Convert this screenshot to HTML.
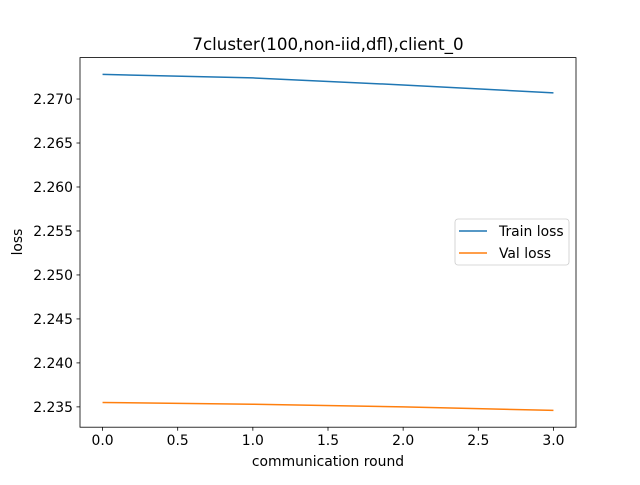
<!DOCTYPE html>
<html><head><meta charset="utf-8"><style>
body{margin:0;background:#fff}
svg text{font-family:"DejaVu Sans","Liberation Sans",sans-serif;fill:#000}
</style></head><body>
<svg id="chart" width="640" height="480">
<rect width="640" height="480" fill="#fff"/>
<text x="328" y="50" font-size="16.7" text-anchor="middle">7cluster(100,non-iid,dfl),client_0</text>
<g id="ticks"></g>
<g id="lines"></g>
<rect x="80" y="57.6" width="496" height="369.6" fill="none" stroke="#000" stroke-width="0.8"/>
<text x="328" y="466" font-size="13.9" text-anchor="middle">communication round</text>
<text x="22" y="242" font-size="13.9" text-anchor="middle" transform="rotate(-90 22 242)">loss</text>
<g>
<rect x="455" y="219" width="114" height="46" rx="3" fill="#fff" fill-opacity="0.8" stroke="#ccc" stroke-width="0.8"/>
<line x1="459" y1="231" x2="487" y2="231" stroke="#1f77b4" stroke-width="1.5"/>
<text x="499" y="236" font-size="13.9">Train loss</text>
<line x1="459" y1="253" x2="487" y2="253" stroke="#ff7f0e" stroke-width="1.5"/>
<text x="499" y="258" font-size="13.9">Val loss</text>
</g>
</svg>
<script>
const rounds=[0,1,2,3];
const trainLoss=[2.2728,2.2724,2.2716,2.2707];
const valLoss=[2.2355,2.2353,2.2350,2.2346];
const xTicks=[0,0.5,1,1.5,2,2.5,3];
const yTicks=[2.235,2.240,2.245,2.250,2.255,2.260,2.265,2.270];
const NS='http://www.w3.org/2000/svg';
const L=80,R=576,T=57.6,B=427.2;
const all=trainLoss.concat(valLoss);
const mn=Math.min(...all),mx=Math.max(...all),pad=(mx-mn)*0.05;
const y0=mn-pad,y1=mx+pad;
const xmn=Math.min(...rounds),xmx=Math.max(...rounds),xp=(xmx-xmn)*0.05;
const sx=v=>L+(v-(xmn-xp))/((xmx+xp)-(xmn-xp))*(R-L);
const sy=v=>B-(v-y0)/(y1-y0)*(B-T);
const tg=document.getElementById('ticks');
function mk(tag,a){const e=document.createElementNS(NS,tag);for(const k in a)e.setAttribute(k,a[k]);return e;}
xTicks.forEach(v=>{const x=sx(v);
 const l=mk('line',{x1:x,x2:x,y1:B,y2:B+3.5,stroke:'#000','stroke-width':0.8});
 
 tg.appendChild(l);
 const t=mk('text',{x:x,y:B+18,'font-size':13.9,'text-anchor':'middle'});t.textContent=v.toFixed(1);
 
 tg.appendChild(t);});
yTicks.forEach(v=>{const y=sy(v);
 const l=mk('line',{x1:L-3.5,x2:L,y1:y,y2:y,stroke:'#000','stroke-width':0.8});
 
 tg.appendChild(l);
 const t=mk('text',{x:L-7,y:y+5,'font-size':13.9,'text-anchor':'end'});t.textContent=v.toFixed(3);
 
 tg.appendChild(t);});
const lg=document.getElementById('lines');
[[trainLoss,'#1f77b4','train-loss-line'],[valLoss,'#ff7f0e','val-loss-line']].forEach(([d,c,n])=>{
 const p=mk('polyline',{points:d.map((v,i)=>sx(rounds[i])+','+sy(v)).join(' '),fill:'none',stroke:c,'stroke-width':1.5});
 
 lg.appendChild(p);});
</script>
</body></html>
